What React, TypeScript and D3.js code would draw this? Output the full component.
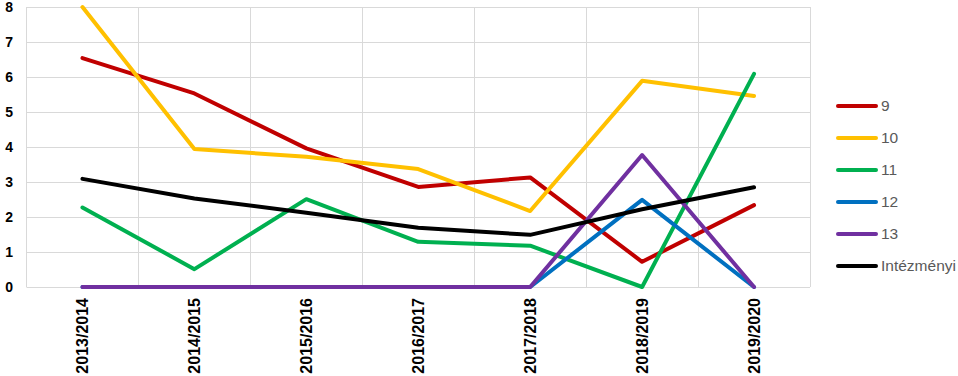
import React from "react";
import * as d3 from "d3";

const categories = ["2013/2014", "2014/2015", "2015/2016", "2016/2017", "2017/2018", "2018/2019", "2019/2020"];
const seriesNames = ["9", "10", "11", "12", "13", "Intézményi"];
const s9 = [6.54, 5.53, 3.96, 2.86, 3.13, 0.72, 2.34];
const s10 = [8.0, 3.94, 3.72, 3.37, 2.17, 5.89, 5.46];
const s11 = [2.27, 0.51, 2.51, 1.29, 1.18, 0.0, 6.09];
const s12 = [0, 0, 0, 0, 0, 2.49, 0];
const s13 = [0, 0, 0, 0, 0, 3.77, 0];
const sInst = [3.09, 2.53, 2.12, 1.69, 1.49, 2.22, 2.85];
const yTicks = [0, 1, 2, 3, 4, 5, 6, 7, 8];
const colors = ["#C00000", "#FFC000", "#00B050", "#0070C0", "#7030A0", "#000000"];

const W = 958;
const H = 376;
const left = 26.5;
const right = 810;
const top = 7;
const bottom = 287;

export default function App() {
  const data = [s9, s10, s11, s12, s13, sInst];
  const x = d3.scaleBand<string>().domain(categories).range([left, right]);
  const y = d3.scaleLinear().domain([0, 8]).range([bottom, top]);
  const cx = (c: string) => (x(c) as number) + x.bandwidth() / 2;
  const line = d3
    .line<number>()
    .x((_, i) => cx(categories[i]))
    .y((d) => y(d));

  const boundaries = categories.map((c) => (x(c) as number) + x.bandwidth());

  return (
    <div style={{ position: "absolute", left: 0, top: 0 }}>
      <svg width={W} height={H} style={{ display: "block", background: "#fff" }}>
        {yTicks.map((t) => (
          <line key={"h" + t} x1={left} x2={right} y1={Math.round(y(t)) + 0.5} y2={Math.round(y(t)) + 0.5} stroke="#D9D9D9" strokeWidth={1} />
        ))}
        <line x1={left} x2={left} y1={top} y2={bottom} stroke="#D9D9D9" strokeWidth={1} />
        {boundaries.map((b, i) => (
          <line key={"v" + i} x1={Math.round(b) + 0.5} x2={Math.round(b) + 0.5} y1={top} y2={bottom} stroke="#D9D9D9" strokeWidth={1} />
        ))}
        {yTicks.map((t) => (
          <text key={"yl" + t} x={13} y={y(t)} dy="0.35em" textAnchor="end" fontFamily="Liberation Sans, Arial, sans-serif" fontWeight="bold" fontSize={14} fill="#000">
            {t}
          </text>
        ))}
        {categories.map((c) => (
          <text
            key={"xl" + c}
            transform={`translate(${cx(c)},${298}) rotate(-90)`}
            textAnchor="end"
            dy="0.35em"
            fontFamily="Liberation Sans, Arial, sans-serif"
            fontWeight="bold"
            fontSize={16}
            fill="#000"
          >
            {c}
          </text>
        ))}
        {data.map((d, i) => (
          <path key={"s" + i} d={line(d) as string} fill="none" stroke={colors[i]} strokeWidth={4} strokeLinejoin="round" strokeLinecap="round" />
        ))}
        {seriesNames.map((n, i) => {
          const ly = 106 + i * 32;
          return (
            <g key={"lg" + n}>
              <line x1={838} x2={876} y1={ly} y2={ly} stroke={colors[i]} strokeWidth={4} strokeLinecap="round" />
              <text x={881} y={ly} dy="0.35em" fontFamily="Liberation Sans, Arial, sans-serif" fontSize={15.5} fill="#595959">
                {n}
              </text>
            </g>
          );
        })}
      </svg>
    </div>
  );
}
